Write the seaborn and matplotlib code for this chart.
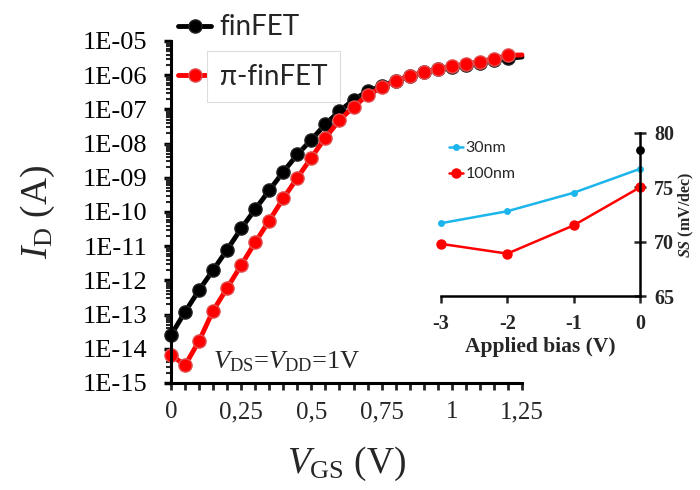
import numpy as np
import pandas as pd
import matplotlib
matplotlib.use("Agg")
import matplotlib.pyplot as plt
import seaborn as sns
from matplotlib.ticker import FixedLocator, FixedFormatter, LogLocator, NullFormatter

# ---------------- data ----------------
vgs = [0.00, 0.05, 0.10, 0.15, 0.20, 0.25, 0.30, 0.35, 0.40, 0.45, 0.50, 0.55, 0.60,
       0.65, 0.70, 0.75, 0.80, 0.85, 0.90, 0.95, 1.00, 1.05, 1.10, 1.15, 1.20, 1.25]
id_finfet = [2.5e-14, 1.2e-13, 5.2e-13, 2.0e-12, 7.9e-12, 3.3e-11, 1.2e-10, 4.3e-10,
             1.5e-9, 4.8e-9, 1.3e-8, 3.7e-8, 8.9e-8, 1.9e-7, 3.4e-7, 4.8e-7, 6.9e-7,
             9.3e-7, 1.2e-6, 1.5e-6, 1.7e-6, 2.0e-6, 2.3e-6, 2.7e-6, 3.1e-6, 3.4e-6]
id_pifinfet = [6.6e-15, 3.3e-15, 1.7e-14, 1.3e-13, 6.0e-13, 2.8e-12, 1.3e-11, 5.6e-11,
               2.5e-10, 1.0e-9, 3.9e-9, 1.5e-8, 4.8e-8, 1.2e-7, 2.6e-7, 4.4e-7, 6.9e-7,
               9.5e-7, 1.2e-6, 1.5e-6, 1.8e-6, 2.1e-6, 2.5e-6, 3.0e-6, 3.8e-6, 3.9e-6]
series_names = ["finFET", "\u03c0-finFET"]

x_ticks = [0, 0.25, 0.5, 0.75, 1.0, 1.25]
x_tick_labels = ["0", "0,25", "0,5", "0,75", "1", "1,25"]
y_ticks = [1e-15, 1e-14, 1e-13, 1e-12, 1e-11, 1e-10, 1e-9, 1e-8, 1e-7, 1e-6, 1e-5]
y_tick_labels = ["1E-15", "1E-14", "1E-13", "1E-12", "1E-11", "1E-10",
                 "1E-09", "1E-08", "1E-07", "1E-06", "1E-05"]

bias = [-3, -2, -1, 0]
ss_30nm = [71.7, 72.8, 74.5, 76.7]
ss_100nm = [69.8, 68.9, 71.5, 75.0]
bias_ref = [0]
ss_ref = [78.4]
inset_names = ["30nm", "100nm"]
inset_x_ticks = [-3, -2, -1, 0]
inset_x_tick_labels = ["-3", "-2", "-1", "0"]
inset_y_ticks = [65, 70, 75, 80]
inset_y_tick_labels = ["65", "70", "75", "80"]

# ---------------- style ----------------
sns.set_style("ticks")
plt.rcParams["font.family"] = ["Liberation Serif", "DejaVu Serif"]
plt.rcParams["mathtext.fontset"] = "custom"
plt.rcParams["mathtext.rm"] = "Liberation Serif"
plt.rcParams["mathtext.it"] = "Liberation Serif:italic"
plt.rcParams["mathtext.bf"] = "Liberation Serif:bold"
plt.rcParams["mathtext.bfit"] = "Liberation Serif:italic:bold"

BLACK = "#000000"
RED = "#ff0000"
BLUE = "#1cb5ec"

fig = plt.figure(figsize=(7.0, 4.9), dpi=100)
ax = fig.add_axes([0.2443, 0.2184, 0.5014, 0.698])

df = pd.DataFrame({"vgs": vgs, "finfet": id_finfet, "pifinfet": id_pifinfet})
marks = list(range(len(vgs) - 1))
sns.lineplot(data=df, x="vgs", y="finfet", ax=ax, color=BLACK, linewidth=3.5,
             marker="o", markersize=9.5, markeredgecolor="#222222", markeredgewidth=1.0,
             markevery=marks, clip_on=False, label=series_names[0], legend=False)
sns.lineplot(data=df, x="vgs", y="pifinfet", ax=ax, color=RED, linewidth=3.5,
             marker="o", markersize=9.5, markeredgecolor="#e05050", markeredgewidth=1.0,
             markevery=marks, clip_on=False, label=series_names[1], legend=False)

ax.set_yscale("log")
ax.set_xlim(0, 1.25)
ax.set_ylim(1e-15, 1e-5)
ax.yaxis.set_major_locator(FixedLocator(y_ticks))
ax.yaxis.set_major_formatter(FixedFormatter(y_tick_labels))
ax.yaxis.set_minor_locator(LogLocator(base=10, subs=np.arange(2, 10), numticks=20))
ax.yaxis.set_minor_formatter(NullFormatter())
ax.xaxis.set_major_locator(FixedLocator(x_ticks))
ax.xaxis.set_major_formatter(FixedFormatter(x_tick_labels))
ax.xaxis.set_minor_locator(FixedLocator(np.arange(0, 1.2501, 0.05)))

for s in ["top", "right"]:
    ax.spines[s].set_visible(False)
for s in ["left", "bottom"]:
    ax.spines[s].set_linewidth(2.2)
    ax.spines[s].set_color("black")
ax.tick_params(axis="y", which="major", direction="out", length=5, width=2.5,
               labelsize=19, pad=12, colors="black")
ax.tick_params(axis="y", which="minor", direction="out", length=3.5, width=1.5)
ax.tick_params(axis="x", which="major", direction="out", length=5, width=2,
               labelsize=18, pad=8)
ax.tick_params(axis="x", which="minor", direction="out", length=5, width=2)

ax.set_xlabel(r"$V_{\mathrm{GS}}$ (V)", fontsize=27)
ax.xaxis.set_label_coords(0.5, -0.18)
ax.set_ylabel(r"$I_{\mathrm{D}}$ (A)", fontsize=27)
ax.yaxis.set_label_coords(-0.325, 0.5)

ax.text(0.12, 0.062, r"$V_{\mathrm{DS}}$=$V_{\mathrm{DD}}$=1V", transform=ax.transAxes,
        fontsize=19, ha="left", va="center")

leg = ax.legend(loc="upper left", bbox_to_anchor=(0.02, 1.078), frameon=False,
                prop={"family": ["Lato", "DejaVu Sans"], "size": 20},
                handlelength=1.2, handletextpad=0.3, labelspacing=0.85,
                borderpad=0, borderaxespad=0)
leg.get_texts()[1].set_bbox(dict(facecolor="white", edgecolor="#dddddd",
                                 linewidth=0.8, pad=9))

# ---------------- inset ----------------
ax2 = fig.add_axes([0.630, 0.3959, 0.2843, 0.3327])
ax2.patch.set_alpha(0)
sns.lineplot(x=bias, y=ss_30nm, ax=ax2, color=BLUE, linewidth=1.8, marker="o",
             markersize=5, markeredgewidth=0, clip_on=False, label=inset_names[0])
sns.lineplot(x=bias, y=ss_100nm, ax=ax2, color=RED, linewidth=1.8, marker="o",
             markersize=7.5, markeredgewidth=0, clip_on=False, label=inset_names[1])
sns.scatterplot(x=bias_ref, y=ss_ref, ax=ax2, color=BLACK, s=40, linewidth=0,
                clip_on=False, legend=False, zorder=5)
ax2.set_xlim(-3, 0)
ax2.set_ylim(65, 80)
ax2.spines["left"].set_visible(False)
ax2.spines["top"].set_visible(False)
ax2.spines["right"].set_visible(True)
for s in ["right", "bottom"]:
    ax2.spines[s].set_linewidth(1.8)
    ax2.spines[s].set_color("black")
ax2.yaxis.tick_right()
ax2.yaxis.set_label_position("right")
ax2.xaxis.set_major_locator(FixedLocator(inset_x_ticks))
ax2.xaxis.set_major_formatter(FixedFormatter(inset_x_tick_labels))
ax2.yaxis.set_major_locator(FixedLocator(inset_y_ticks))
ax2.yaxis.set_major_formatter(FixedFormatter(inset_y_tick_labels))
ax2.tick_params(axis="y", which="major", direction="inout", length=8, width=1.8,
                labelsize=14.5, pad=6, right=True, left=False)
ax2.tick_params(axis="x", which="major", direction="out", length=5, width=1.8,
                labelsize=14.5, pad=8)
for t in ax2.get_xticklabels() + ax2.get_yticklabels():
    t.set_fontweight("bold")
ax2.set_xlabel("Applied bias (V)", fontsize=15.5, fontweight="bold", labelpad=2)
ax2.set_ylabel(r"$\mathbfit{SS}$ (mV/dec)", fontsize=11.5, fontweight="bold", labelpad=2)

leg2 = ax2.legend(loc="upper left", bbox_to_anchor=(0.04, 0.95), frameon=False,
                  prop={"family": ["Lato", "DejaVu Sans"], "size": 11.5},
                  handlelength=0.9, handletextpad=0.15, labelspacing=0.75,
                  borderpad=0, borderaxespad=0)

fig.savefig("out.png", dpi=100)
